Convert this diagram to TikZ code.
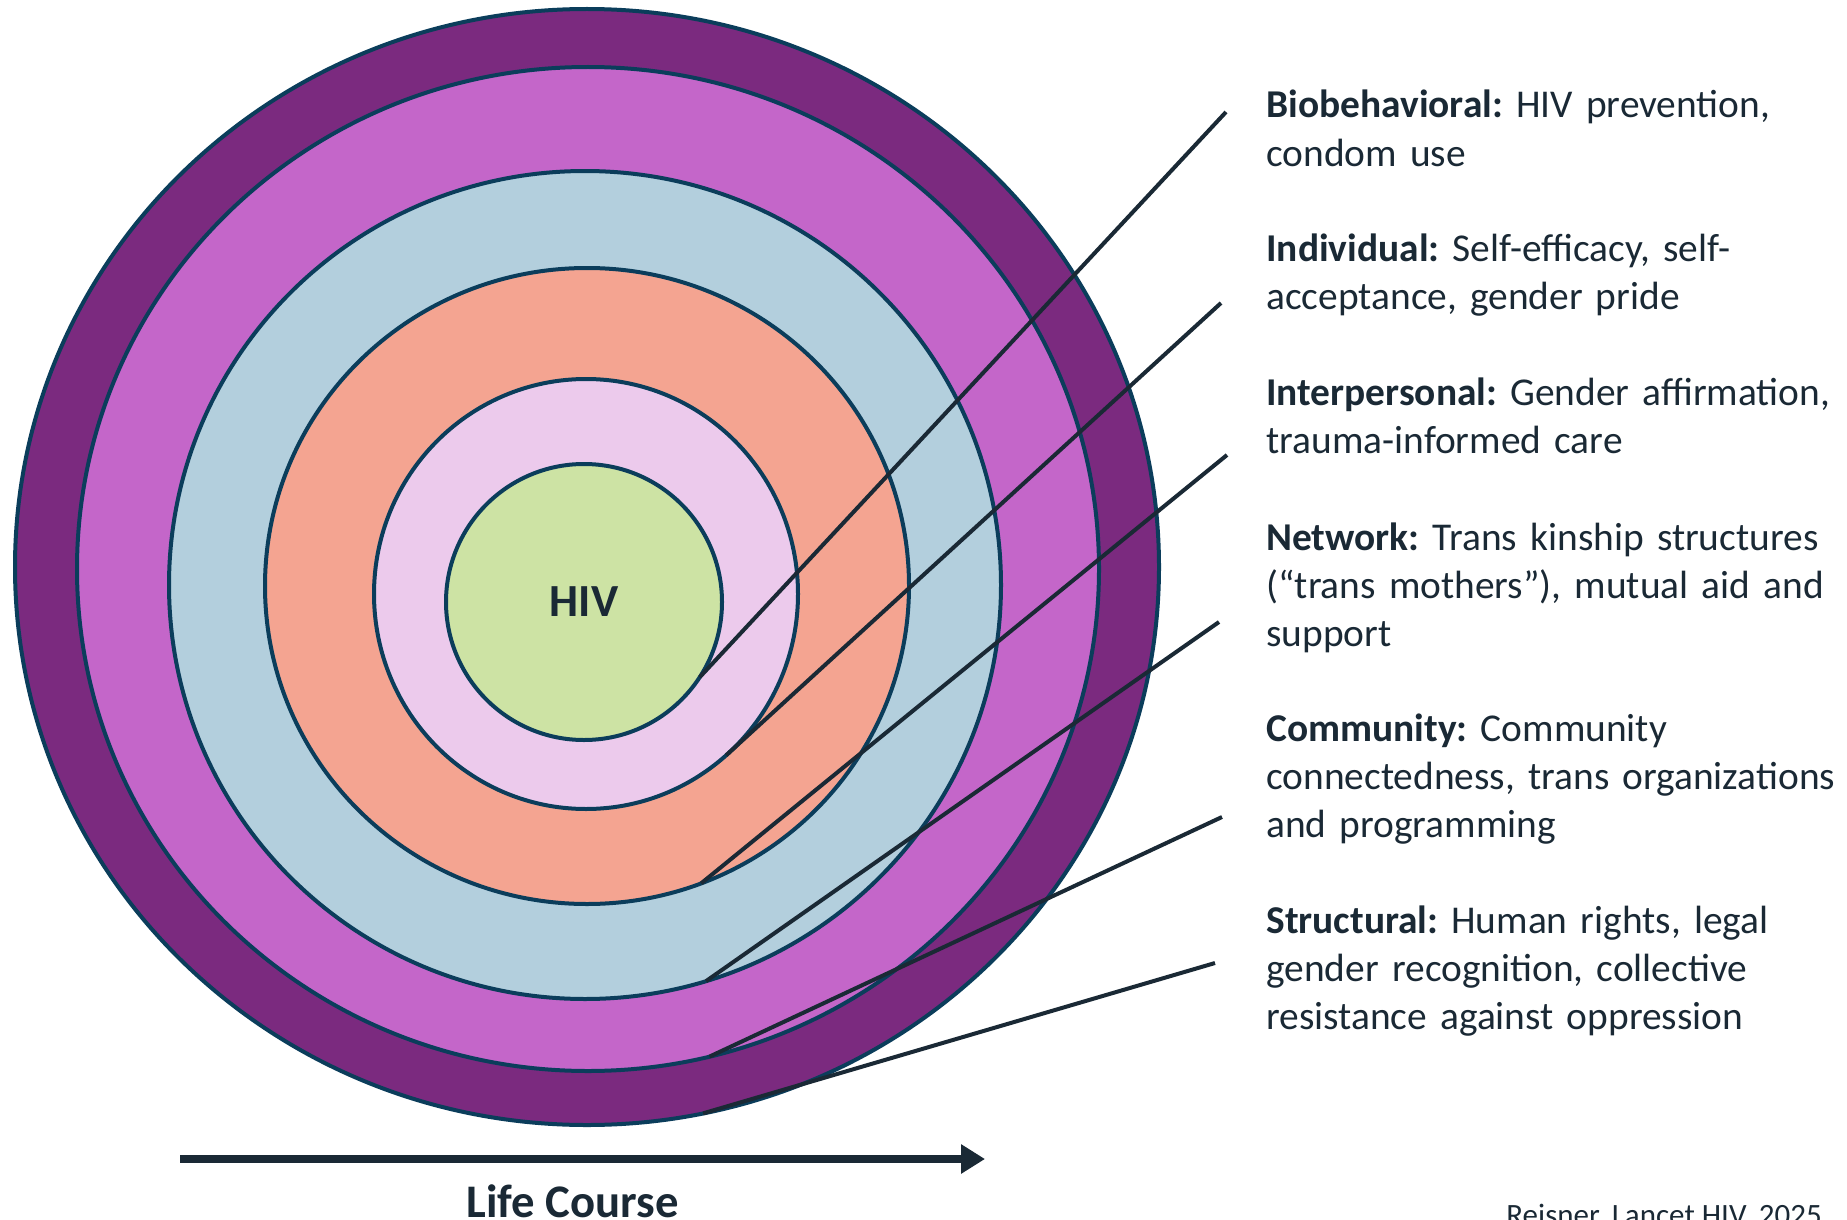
\documentclass[tikz,border=0pt]{standalone}
\usepackage{fontspec}
\setmainfont{Carlito}
\frenchspacing
\usetikzlibrary{shapes.geometric,arrows.meta}
\definecolor{ringA}{HTML}{7B2A7F}
\definecolor{ringB}{HTML}{C466C9}
\definecolor{ringC}{HTML}{B3CFDD}
\definecolor{ringD}{HTML}{F4A491}
\definecolor{ringE}{HTML}{ECCAEC}
\definecolor{ringF}{HTML}{CDE3A4}
\definecolor{edgec}{HTML}{0B3D5B}
\definecolor{ink}{HTML}{1A2935}
\begin{document}
\begin{tikzpicture}[x=0.5pt,y=-0.5pt,
  ring/.style={ellipse, draw=edgec, line width=2pt, inner sep=0pt, outer sep=0pt},
  leader/.style={draw=ink, line width=2pt},
  lbl/.style={anchor=base west, inner sep=0pt, text=ink, text width=330pt, align=left,
    font=\frenchspacing\fontsize{19.7pt}{24.15pt}\selectfont},
]
\useasboundingbox[fill=white] (0,0) rectangle (1847,1220);
% rings
\node[ring, fill=ringA, minimum width=572pt, minimum height=558pt] (structural) at (587,567) {};
\node[ring, fill=ringB, minimum width=511pt, minimum height=502pt] (community) at (588,569) {};
\node[ring, fill=ringC, minimum width=416pt, minimum height=414pt] (network) at (585,585) {};
\node[ring, fill=ringD, minimum width=322pt, minimum height=318pt] (interpersonal) at (587,586) {};
\node[ring, fill=ringE, minimum width=212pt, minimum height=215pt] (individual) at (586,594) {};
\node[ring, fill=ringF, minimum width=138pt, minimum height=138pt, text=ink,
  font=\bfseries\fontsize{23pt}{27pt}\selectfont] (hiv) at (584,602) {HIV};
% label end points
\coordinate (bioEnd) at (1226,112);
\coordinate (indEnd) at (1221,303);
\coordinate (intEnd) at (1227,455);
\coordinate (netEnd) at (1219,622);
\coordinate (comEnd) at (1222,817);
\coordinate (strEnd) at (1215,963);
% leaders
\draw[leader] (hiv.-33.7) -- (bioEnd);
\draw[leader] (individual.-49.3) -- (indEnd);
\draw[leader] (interpersonal.-69.2) -- (intEnd);
\draw[leader] (network.-73.1) -- (netEnd);
\draw[leader] (community.-76.5) -- (comEnd);
\draw[leader] (structural.-78.4) -- (strEnd);
% labels
\node[lbl] (bioTxt) at (1266,118) {\textbf{Biobehavioral:} HIV prevention,\\condom use};
\node[lbl] (indTxt) at (1266,261) {\textbf{Individual:} Self-efficacy, self-\\acceptance, gender pride};
\node[lbl] (intTxt) at (1266,405) {\textbf{Interpersonal:} Gender affirmation,\\trauma-informed care};
\node[lbl] (netTxt) at (1266,550) {\textbf{Network:} Trans kinship structures\\(“trans mothers”), mutual aid and\\support};
\node[lbl] (comTxt) at (1266,741) {\textbf{Community:} Community\\connectedness, trans organizations\\and programming};
\node[lbl] (strTxt) at (1266,933) {\textbf{Structural:} Human rights, legal\\gender recognition, collective\\resistance against oppression};
% life course arrow
\coordinate (lcStart) at (180,1159);
\coordinate (lcEnd) at (985,1159);
\draw[ink, line width=4pt, -{Triangle[length=12pt,width=14pt]}] (lcStart) -- (lcEnd);
\node[anchor=base west, inner sep=0pt, text=ink, font=\bfseries\fontsize{23.35pt}{28pt}\selectfont] (lifeTxt) at (466,1217) {Life Course};
\node[anchor=base west, inner sep=0pt, text=ink, font=\fontsize{15.5pt}{18pt}\selectfont] (cite) at (1506,1225) {Reisner, Lancet HIV, 2025};
\end{tikzpicture}
\end{document}
